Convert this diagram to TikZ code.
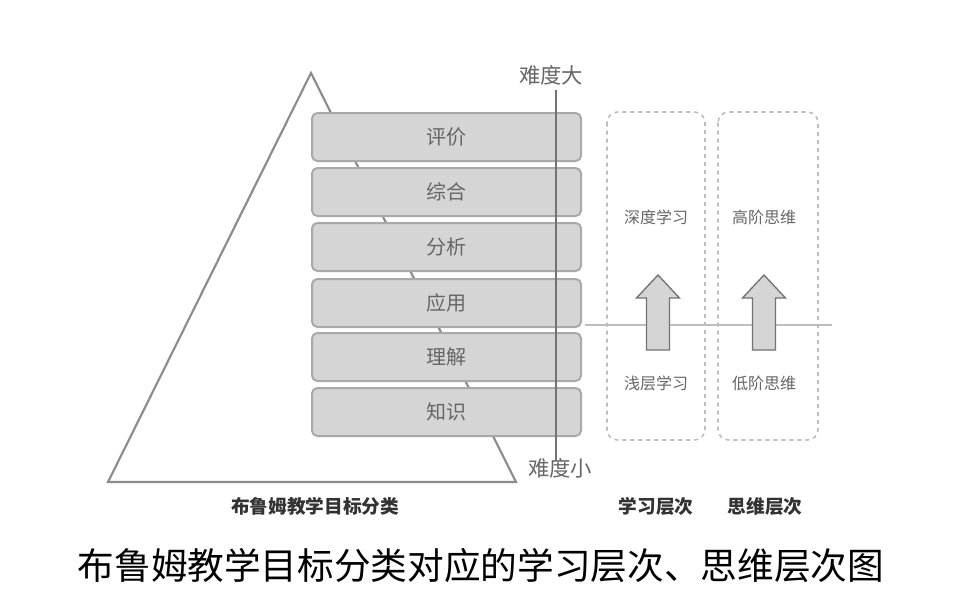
\documentclass[tikz,border=0pt]{standalone}
\usepackage{fontspec}
\newfontfamily\cjk{Noto Sans CJK SC}
\definecolor{boxfill}{HTML}{D5D5D5}
\definecolor{boxline}{HTML}{A9A9A9}
\definecolor{txtgray}{HTML}{666666}
\definecolor{lightline}{HTML}{BDBDBD}
\tikzset{
  levelbox/.style={draw=boxline, fill=boxfill, line width=1.5pt, rounded corners=4pt},
  leveltext/.style={text=txtgray, font=\cjk\fontsize{15}{18}\selectfont},
  smalltext/.style={text=txtgray, font=\cjk\fontsize{12}{14}\selectfont},
  bottomtext/.style={text=black!80, font=\cjk\bfseries\fontsize{14}{16}\selectfont},
  dashbox/.style={draw=lightline, dashed, line width=1.2pt, rounded corners=8pt},
  blockarrow/.style={draw=black!55, fill=boxfill, line width=1pt, line join=miter},
}
\newcommand{\uparr}[1]{%
  \draw[blockarrow] (#1-11.5,350) -- (#1-11.5,298) -- (#1-21.5,298) -- (#1,275)
    -- (#1+21.5,298) -- (#1+11.5,298) -- (#1+11.5,350) -- cycle;}
\begin{document}
\begin{tikzpicture}[x=0.75pt,y=-0.75pt]
\useasboundingbox[fill=white] (0,0) rectangle (965,604);
% triangle
\coordinate (apex) at (311,73);
\coordinate (bl) at (108,482);
\coordinate (br) at (516,482);
\draw[draw=black!45, line width=1.6pt] (apex) -- (bl) -- (br) -- cycle;
% level boxes
\foreach \t/\n/\lab in {113/b1/评价,168/b2/综合,223/b3/分析,279/b4/应用,333/b5/理解,388/b6/知识}{
  \draw[levelbox] (312,\t) rectangle (581,\t+48);
  \node[leveltext] (\n) at (446,\t+24) {\lab};
}
% difficulty axis
\node[leveltext, font=\cjk\fontsize{16}{18}\selectfont] (hard) at (551,75) {难度大};
\node[leveltext, font=\cjk\fontsize{16}{18}\selectfont] (easy) at (560,468) {难度小};
\coordinate (axtop) at (556,90);
\coordinate (axbot) at (556,461);
\draw[draw=black!55, line width=2.2pt] (axtop) -- (axbot);
% dashed boxes
\draw[dashbox] (607,112) rectangle (705,440);
\draw[dashbox] (718,112) rectangle (818,440);
% horizontal line
\coordinate (hl) at (585,325);
\coordinate (hr) at (832,325);
\draw[draw=lightline, line width=1.4pt] (hl) -- (hr);
% labels
\node[smalltext] (deep) at (656,217) {深度学习};
\node[smalltext] (high) at (764,217) {高阶思维};
\node[smalltext] (shallow) at (656,383) {浅层学习};
\node[smalltext] (low) at (764,383) {低阶思维};
% arrows
\uparr{658}
\uparr{764}
% bottom labels
\node[bottomtext] (blooml) at (315,506) {布鲁姆教学目标分类};
\node[bottomtext] (learnl) at (656,506) {学习层次};
\node[bottomtext] (thinkl) at (765,506) {思维层次};
% caption
\node[text=black, font=\cjk\fontsize{27.5}{32}\selectfont] (cap) at (481,566) {布鲁姆教学目标分类对应的学习层次、思维层次图};
\end{tikzpicture}
\end{document}
